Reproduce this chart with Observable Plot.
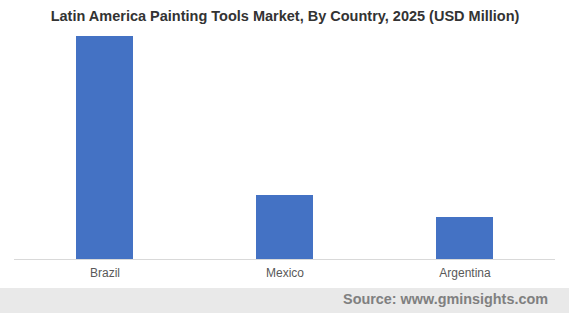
<!DOCTYPE html>
<html>
<head>
<meta charset="utf-8">
<script src="https://cdn.jsdelivr.net/npm/d3@7"></script>
<script src="https://cdn.jsdelivr.net/npm/@observablehq/plot@0.6"></script>
<style>
  html, body { margin: 0; padding: 0; background: #fff; }
  #wrap { width: 569px; height: 313px; position: relative; overflow: hidden; font-family: "Liberation Sans", Arial, sans-serif; }
  #footer { position: absolute; left: 0; top: 288px; width: 569px; height: 25px; background: #e9e9e9; }
  #footer span { position: absolute; right: 21px; top: 3px; font-size: 14.4px; font-weight: bold; color: #808080; }
</style>
</head>
<body>
<div id="wrap">
  <div id="chart"></div>
  <div id="footer"><span>Source: www.gminsights.com</span></div>
</div>
<script>
const countries = ["Brazil", "Mexico", "Argentina"];
const values = [223, 64, 42];
const title = "Latin America Painting Tools Market, By Country, 2025 (USD Million)";

const data = countries.map((c, i) => ({country: c, value: values[i]}));

const chart = Plot.plot({
  width: 569,
  height: 288,
  marginTop: 36,
  marginBottom: 29,
  marginLeft: 14,
  marginRight: 14,
  style: {fontFamily: "'Liberation Sans', Arial, sans-serif", background: "#fff"},
  x: {domain: countries, paddingInner: 0.684, paddingOuter: 0.342, label: null},
  y: {domain: [0, 223], axis: null},
  marks: [
    Plot.barY(data, {x: "country", y: "value", fill: "#4472c4"}),
    Plot.ruleY([0], {stroke: "#d9d9d9", strokeWidth: 1}),
    Plot.axisX({tickSize: 0, tickPadding: 9, fontSize: 12, color: "#595959", label: null}),
    Plot.text([title], {frameAnchor: "top", dy: -26, fontSize: 14.5, fontWeight: "bold", fill: "#333333"})
  ]
});
document.getElementById("chart").appendChild(chart);
</script>
</body>
</html>
